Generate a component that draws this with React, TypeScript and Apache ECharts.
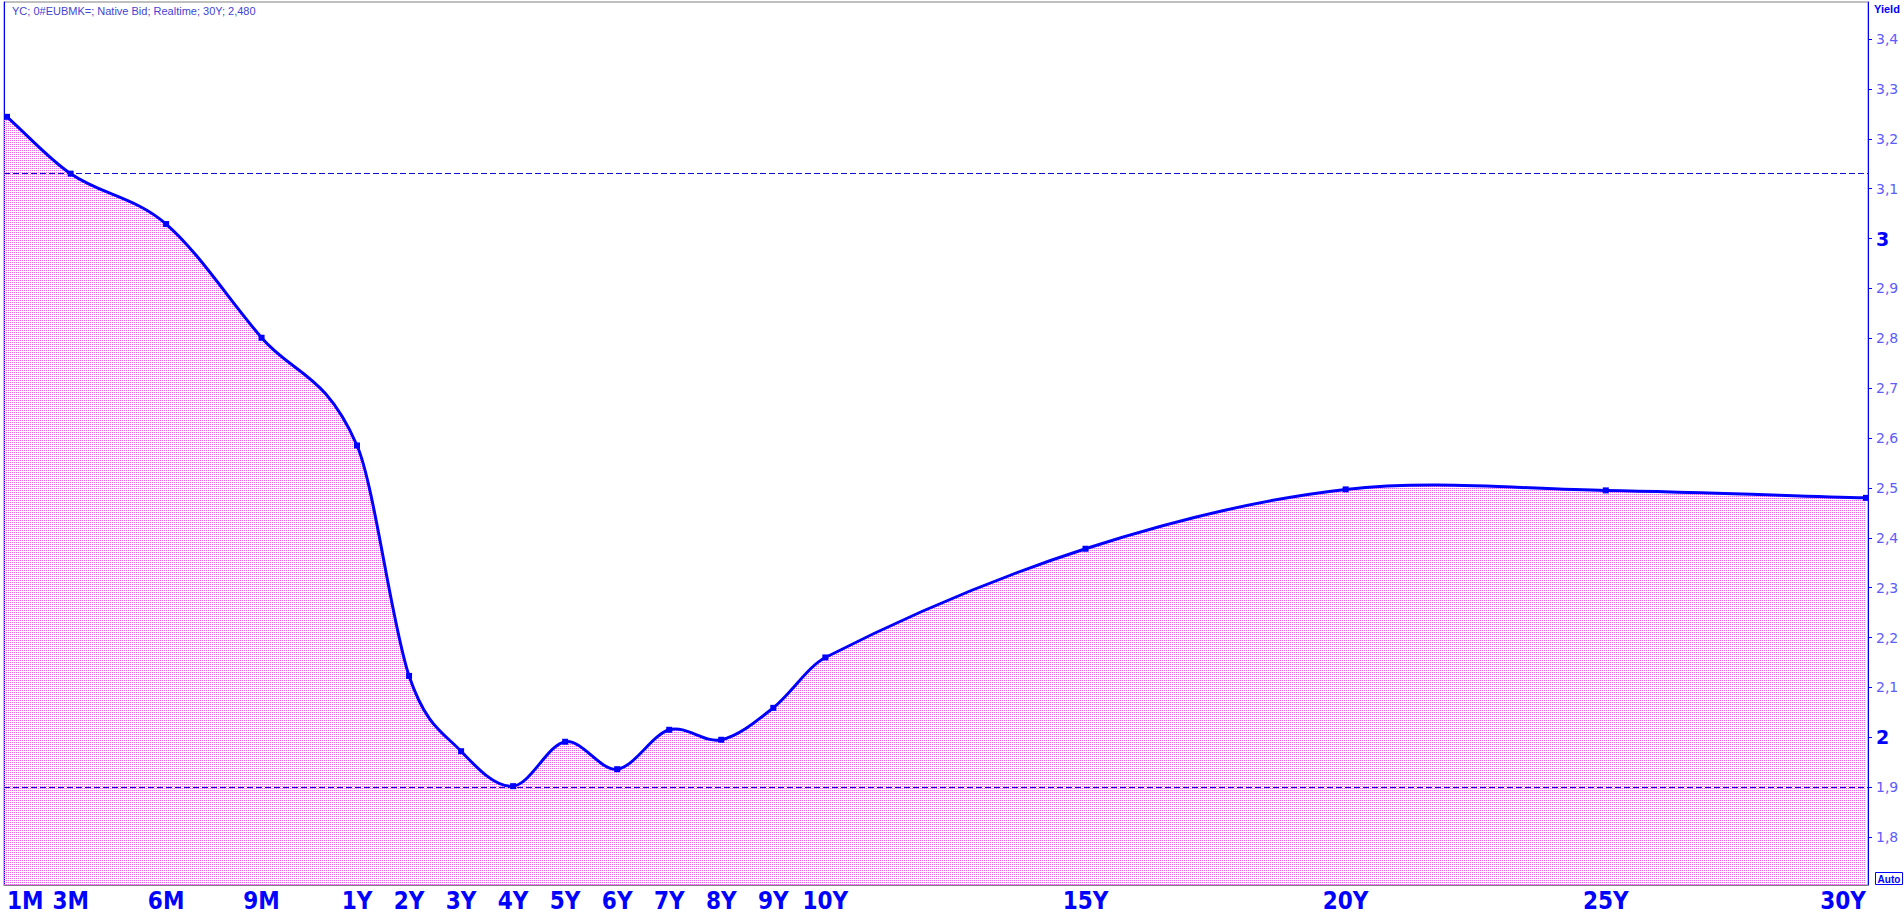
import React, { useEffect, useRef } from 'react';
import * as echarts from 'echarts';

const TITLE = 'YC; 0#EUBMK=; Native Bid; Realtime; 30Y; 2,480';
const AXIS_NAME = 'Yield';

const MATURITY_LABELS = ['1M', '3M', '6M', '9M', '1Y', '2Y', '3Y', '4Y', '5Y', '6Y', '7Y', '8Y', '9Y', '10Y', '15Y', '20Y', '25Y', '30Y'];
const MATURITY_YEARS = [1 / 12, 0.25, 0.5, 0.75, 1, 2, 3, 4, 5, 6, 7, 8, 9, 10, 15, 20, 25, 30];
const YIELDS = [3.244, 3.13, 3.029, 2.801, 2.585, 2.123, 1.972, 1.902, 1.991, 1.936, 2.015, 1.995, 2.059, 2.16, 2.378, 2.497, 2.495, 2.48];

const REFERENCE_LEVELS = [3.13, 1.9];
const Y_TICKS = [1.8, 1.9, 2, 2.1, 2.2, 2.3, 2.4, 2.5, 2.6, 2.7, 2.8, 2.9, 3, 3.1, 3.2, 3.3, 3.4];
const Y_MIN = 1.7038;
const Y_MAX = 3.4742;

// piecewise maturity scale: the first year is spread out by month
const MONTH_UNIT = 31.8;
const YEAR_UNIT = 52;
const maturityPos = (t: number) => (t <= 1 ? t * 12 * MONTH_UNIT : 12 * MONTH_UNIT + (t - 1) * YEAR_UNIT);

const X_POS = MATURITY_YEARS.map(maturityPos);
const X_MIN = X_POS[0] - 3;
const X_MAX = X_POS[X_POS.length - 1] + 2;

const BLUE = '#0000ff';

function labelFor(v: number): string {
  let best = 0;
  let bd = Infinity;
  X_POS.forEach((p, i) => {
    const d = Math.abs(p - v);
    if (d < bd) {
      bd = d;
      best = i;
    }
  });
  return MATURITY_LABELS[best];
}

function yLabel(v: number): string {
  const r = Math.round(v * 10) / 10;
  if (Math.abs(r - Math.round(r)) < 1e-9) return '{big|' + Math.round(r) + '}';
  return '{small|' + r.toFixed(1).replace('.', ',') + '}';
}

export default function App() {
  const ref = useRef<HTMLDivElement>(null);
  useEffect(() => {
    document.body.style.margin = '0';
    document.body.style.overflow = 'hidden';
    const chart = echarts.init(ref.current!, null, { renderer: 'svg' });

    const c = document.createElement('canvas');
    c.width = 2;
    c.height = 2;
    const ctx = c.getContext('2d')!;
    ctx.fillStyle = '#f060f0';
    ctx.fillRect(0, 0, 1, 1);
    const pattern = { image: c, repeat: 'repeat', imageWidth: 2, imageHeight: 2 };

    const data = X_POS.map((p, i) => [p, YIELDS[i]]);

    // spline through the data points (cubic Hermite with finite-difference tangents), in pixel space
    const renderCurve = (params: any, api: any) => {
      if (params.dataIndex !== 0) return null;
      const pts: number[][] = data.map((d) => api.coord(d));
      const n = pts.length;
      const m = pts.map((p, i) => {
        if (i === 0) return (pts[1][1] - p[1]) / (pts[1][0] - p[0]);
        if (i === n - 1) return (p[1] - pts[n - 2][1]) / (p[0] - pts[n - 2][0]);
        return (pts[i + 1][1] - pts[i - 1][1]) / (pts[i + 1][0] - pts[i - 1][0]);
      });
      let d = 'M' + pts[0][0] + ',' + pts[0][1];
      for (let i = 0; i < n - 1; i++) {
        const [x0, y0] = pts[i];
        const [x1, y1] = pts[i + 1];
        const h = x1 - x0;
        d += ' C' + (x0 + h / 3) + ',' + (y0 + (m[i] * h) / 3) + ' ' + (x1 - h / 3) + ',' + (y1 - (m[i + 1] * h) / 3) + ' ' + x1 + ',' + y1;
      }
      const base = api.coord([X_MIN, Y_MIN]);
      const area = d + ' L' + pts[n - 1][0] + ',' + base[1] + ' L' + base[0] + ',' + base[1] + ' L' + base[0] + ',' + pts[0][1] + ' Z';
      return {
        type: 'group',
        children: [
          { type: 'path', shape: { pathData: area }, style: { fill: pattern, stroke: null }, z2: 1 },
          { type: 'path', shape: { pathData: d }, style: { fill: null, stroke: BLUE, lineWidth: 3, lineJoin: 'round' }, z2: 3 },
        ],
      };
    };

    const option: any = {
      animation: false,
      backgroundColor: '#ffffff',
      grid: { left: 4, right: 36, top: 2, bottom: 32, show: true, borderColor: '#808080', borderWidth: 1 },
      xAxis: {
        type: 'value',
        min: X_MIN,
        max: X_MAX,
        axisLine: { show: true, lineStyle: { color: '#808080', width: 1 } },
        axisTick: { show: false },
        splitLine: { show: false },
        axisLabel: {
          customValues: X_POS,
          formatter: (v: number) => labelFor(v),
          fontFamily: '"DejaVu Sans Condensed", "DejaVu Sans", sans-serif',
          fontSize: 24,
          fontWeight: 'bold',
          color: BLUE,
          margin: 4,
          alignMinLabel: 'left',
          alignMaxLabel: 'right',
          hideOverlap: false,
        },
      },
      yAxis: [
        {
          type: 'value',
          position: 'right',
          min: Y_MIN,
          max: Y_MAX,
          axisLine: { show: true, lineStyle: { color: BLUE, width: 1 } },
          axisTick: { show: true, inside: false, length: 4, customValues: Y_TICKS, lineStyle: { color: BLUE, width: 1 } },
          splitLine: { show: false },
          axisLabel: {
            customValues: Y_TICKS,
            margin: 8,
            formatter: (v: number) => yLabel(v),
            rich: {
              big: { fontFamily: '"DejaVu Sans", sans-serif', fontSize: 19, fontWeight: 'bold', color: BLUE },
              small: { fontFamily: '"DejaVu Sans", sans-serif', fontSize: 14, color: '#5c5cff' },
            },
          },
        },
        {
          type: 'value',
          position: 'left',
          min: Y_MIN,
          max: Y_MAX,
          axisLine: { show: true, lineStyle: { color: BLUE, width: 1 } },
          axisTick: { show: false },
          axisLabel: { show: false },
          splitLine: { show: false },
        },
      ],
      graphic: [
        {
          type: 'text',
          left: 12,
          top: 5,
          style: { text: TITLE, font: '11px "Liberation Sans", sans-serif', fill: '#4343d6' },
        },
        {
          type: 'text',
          left: 1874,
          top: 3,
          style: { text: AXIS_NAME, font: 'bold 11px "Liberation Sans", sans-serif', fill: BLUE },
        },
        {
          type: 'group',
          left: 1875,
          top: 872,
          children: [
            { type: 'rect', shape: { x: 0.5, y: 0.5, width: 27, height: 12 }, style: { fill: '#ffffff', stroke: BLUE, lineWidth: 1 } },
            {
              type: 'text',
              x: 14,
              y: 7,
              style: { text: 'Auto', font: 'bold 10px "Liberation Sans", sans-serif', fill: BLUE, align: 'center', verticalAlign: 'middle' },
            },
          ],
        },
      ],
      series: [
        {
          type: 'custom',
          coordinateSystem: 'cartesian2d',
          yAxisIndex: 0,
          data: data,
          renderItem: renderCurve,
          z: 2,
          silent: true,
        },
        {
          type: 'line',
          yAxisIndex: 0,
          data: data,
          symbol: 'rect',
          symbolSize: 6,
          showSymbol: true,
          lineStyle: { opacity: 0, width: 0 },
          itemStyle: { color: BLUE },
          z: 3,
          markLine: {
            silent: true,
            symbol: 'none',
            label: { show: false },
            lineStyle: { color: '#1010d0', type: [6, 3], width: 1 },
            data: REFERENCE_LEVELS.map((v) => ({ yAxis: v })),
          },
        },
      ],
    };
    chart.setOption(option);
    return () => chart.dispose();
  }, []);
  return <div ref={ref} style={{ width: 1904, height: 917, background: '#fff' }} />;
}
